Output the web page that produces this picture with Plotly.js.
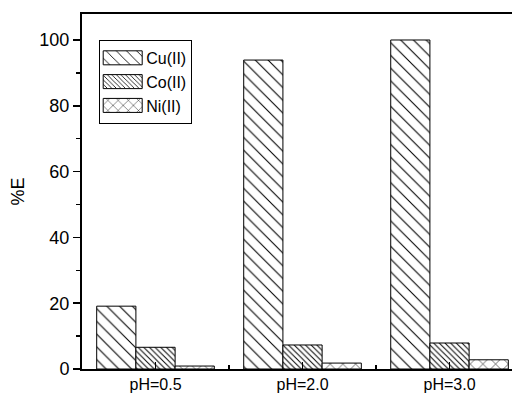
<!DOCTYPE html>
<html><head><meta charset="utf-8">
<script src="https://cdn.plot.ly/plotly-3.0.1.min.js"></script>
<style>html,body{margin:0;padding:0;background:#fff}#c{width:512px;height:393px}</style>
</head><body><div id="c"></div>
<script>
const categories = ["pH=0.5", "pH=2.0", "pH=3.0"];
const catPos = [0, 1, 2];
const cu = [19.1, 93.9, 100];
const co = [6.6, 7.3, 7.9];
const ni = [0.9, 1.8, 2.8];
const seriesNames = ["Cu(II)", "Co(II)", "Ni(II)"];

function bar(name, y, shape, size, sol) {
  return {
    type: "bar", x: catPos, y: y, name: name,
    marker: {color: "#ffffff", line: {color: "#000", width: 1},
      pattern: {shape: shape, size: size, solidity: sol, fgcolor: "#000", bgcolor: "#fff"}}
  };
}
const data = [
  bar(seriesNames[0], cu, "\\", 9, 0.12),
  bar(seriesNames[1], co, "\\", 4, 0.25),
  bar(seriesNames[2], ni, "x", 9, 0.12)
];
const layout = {
  width: 512, height: 393,
  margin: {l: 82, r: 0, t: 14, b: 24},
  paper_bgcolor: "#fff", plot_bgcolor: "#fff",
  barmode: "group", bargap: 0.2, bargroupgap: 0,
  font: {family: "Liberation Sans, Arial, sans-serif", color: "#000"},
  xaxis: {range: [-0.5, 2.425], tickmode: "array", tickvals: catPos, ticktext: categories,
    ticks: "inside", ticklen: 7, tickwidth: 1.5, tickcolor: "#000",
    minor: {tickmode: "array", tickvals: [0.5, 1.5], ticks: "inside", ticklen: 4, tickwidth: 1.5, tickcolor: "#000"},
    showline: true, linecolor: "#000", linewidth: 2, mirror: true, showgrid: false, zeroline: false,
    tickfont: {size: 16}},
  yaxis: {range: [0, 107.9], tickvals: [0, 20, 40, 60, 80, 100],
    ticks: "outside", ticklen: 7, tickwidth: 1.5, tickcolor: "#000",
    minor: {dtick: 10, ticks: "outside", ticklen: 4, tickwidth: 1.5, tickcolor: "#000"},
    showline: true, linecolor: "#000", linewidth: 2, showgrid: false, zeroline: false,
    tickfont: {size: 18},
    title: {text: "%E", font: {size: 18}, standoff: 10}},
  showlegend: true,
  legend: {x: 0.04, y: 0.927, xanchor: "left", yanchor: "top", bordercolor: "#000", borderwidth: 1,
    bgcolor: "#fff", font: {size: 16}, tracegroupgap: 0, itemwidth: 36}
};
Plotly.newPlot("c", data, layout, {staticPlot: true}).then(function (gd) {
  gd.querySelectorAll(".legend .legendpoints path").forEach(function (p) {
    p.setAttribute("d", "M19,7H-20V-7H19Z");
  });
});
</script></body></html>
